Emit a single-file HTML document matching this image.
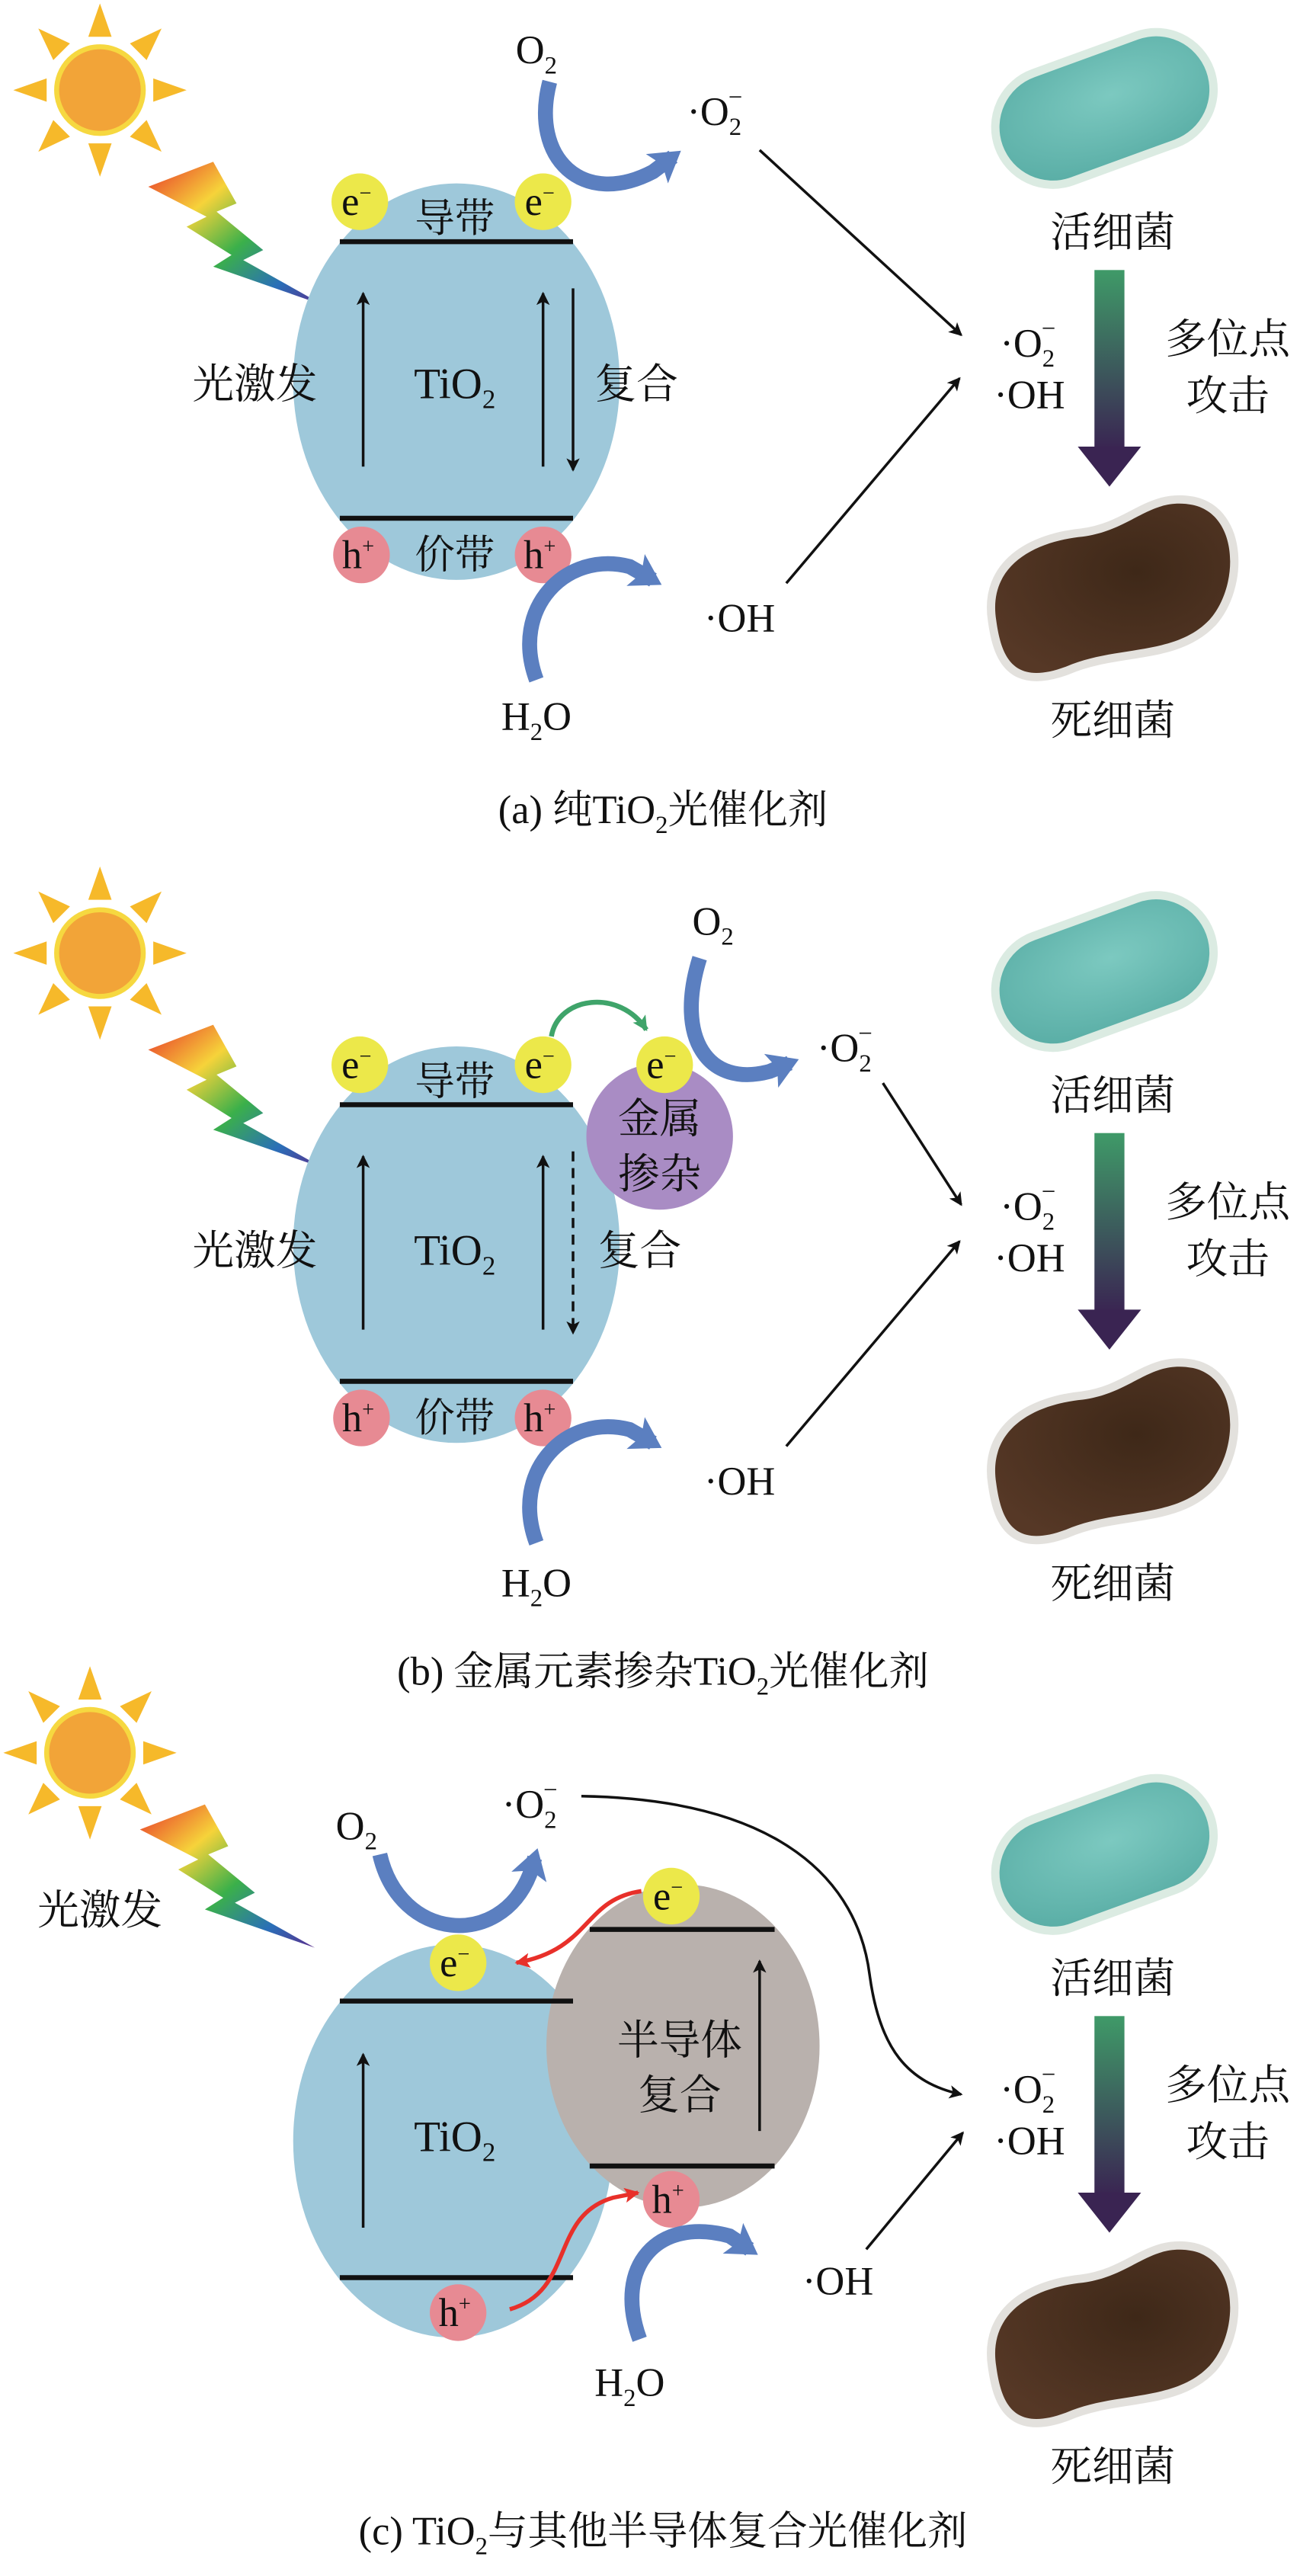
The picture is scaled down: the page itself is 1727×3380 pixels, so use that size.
<!DOCTYPE html>
<html><head><meta charset="utf-8"><style>
html,body{margin:0;padding:0;background:#fff}
svg{display:block}
text{font-family:"Liberation Serif","Noto Serif CJK SC",serif;fill:#111}
</style></head><body>
<svg width="1727" height="3380" viewBox="0 0 790 1546" xmlns="http://www.w3.org/2000/svg">
<defs>
<linearGradient id="bolt" x1="0" y1="0" x2="1" y2="1">
<stop offset="0" stop-color="#e8322a"/><stop offset="0.3" stop-color="#f6d33a"/><stop offset="0.55" stop-color="#3bb04a"/><stop offset="0.8" stop-color="#2a6fb8"/><stop offset="1" stop-color="#5a2d8c"/></linearGradient>
<linearGradient id="ga" x1="0" y1="0" x2="0" y2="1"><stop offset="0" stop-color="#3f9a68"/><stop offset="1" stop-color="#3a2452"/></linearGradient>
<radialGradient id="live" cx="0.55" cy="0.4" r="0.7"><stop offset="0" stop-color="#7cc9c0"/><stop offset="1" stop-color="#5aaea6"/></radialGradient>
<radialGradient id="dead" cx="0.6" cy="0.4" r="0.7"><stop offset="0" stop-color="#3e2818"/><stop offset="1" stop-color="#563826"/></radialGradient>
<marker id="ah" markerWidth="8" markerHeight="8" refX="7" refY="4" orient="auto" markerUnits="userSpaceOnUse"><path d="M0,0 L8,4 L0,8 L2,4 Z" fill="#111"/></marker>
<marker id="rh" markerWidth="9" markerHeight="9" refX="8" refY="4.5" orient="auto" markerUnits="userSpaceOnUse"><path d="M0,0 L9,4.5 L0,9 L2,4.5 Z" fill="#e8302a"/></marker>
<marker id="gh" markerWidth="9" markerHeight="9" refX="8" refY="4.5" orient="auto" markerUnits="userSpaceOnUse"><path d="M0,0 L9,4.5 L0,9 L2,4.5 Z" fill="#3fa46a"/></marker>
<marker id="bh" markerWidth="22" markerHeight="22" refX="12" refY="11" orient="auto" markerUnits="userSpaceOnUse"><path d="M0,0 L18,11 L0,22 L4,11 Z" fill="#5b7fc0"/></marker>

<g id="sun">
<g fill="#f6b92a">
<polygon points="0,-52 -7,-32 7,-32"/><polygon points="0,52 -7,32 7,32"/>
<polygon points="-52,0 -32,-7 -32,7"/><polygon points="52,0 32,-7 32,7"/>
<polygon points="-37,-37 -28,-18 -18,-28"/><polygon points="37,37 28,18 18,28"/>
<polygon points="37,-37 28,-18 18,-28"/><polygon points="-37,37 -28,18 -18,28"/>
</g>
<circle r="26" fill="#f2a438" stroke="#f6d840" stroke-width="3"/>
</g>
<polygon id="bolt1" points="89,112 128,97 142,122 130,127 158,150 146,156 194,183 128,160 139,153 112,136 124,130" fill="url(#bolt)"/>
<g id="bact">
<rect x="598" y="33" width="130" height="64" rx="32" transform="rotate(-20 663 65)" fill="none" stroke="#b7d8c6" stroke-width="10" opacity="0.5"/>
<rect x="598" y="33" width="130" height="64" rx="32" transform="rotate(-20 663 65)" fill="url(#live)"/>
<path d="M598,372 C593,340 620,325 650,322 C680,318 690,298 716,303 C744,309 744,352 726,372 C705,394 670,387 640,400 C608,412 601,394 598,372 Z" fill="none" stroke="#c8c4bc" stroke-width="10" opacity="0.5"/>
<path d="M598,372 C593,340 620,325 650,322 C680,318 690,298 716,303 C744,309 744,352 726,372 C705,394 670,387 640,400 C608,412 601,394 598,372 Z" fill="url(#dead)"/>
<text x="668" y="148" font-size="25" text-anchor="middle">活细菌</text>
<rect x="657" y="162" width="18" height="108" fill="url(#ga)"/>
<polygon points="647,268 685,268 666,292" fill="#3a2452"/>
<text x="737" y="212" font-size="25" text-anchor="middle">多位点</text>
<text x="737" y="246" font-size="25" text-anchor="middle">攻击</text>
<text x="668" y="441" font-size="25" text-anchor="middle">死细菌</text>
<text x="617" y="214" font-size="24" text-anchor="middle">·O<tspan font-size="15" dy="6">2</tspan><tspan font-size="15" dx="-8" dy="-18">−</tspan></text>
<text x="618" y="245" font-size="24" text-anchor="middle">·OH</text>
</g>
</defs>

<!-- ============ Panel (a) ============ -->
<use href="#sun" x="60" y="54"/>
<use href="#bolt1"/>
<use href="#bact"/>
<ellipse cx="274" cy="229" rx="98" ry="119" fill="#9ec8da"/>
<line x1="204" y1="145" x2="344" y2="145" stroke="#111" stroke-width="3"/>
<line x1="204" y1="311" x2="344" y2="311" stroke="#111" stroke-width="3"/>
<circle cx="216" cy="121" r="17" fill="#ece84a"/><circle cx="326" cy="121" r="17" fill="#ece84a"/>
<circle cx="217" cy="333" r="17" fill="#e78a93"/><circle cx="326" cy="333" r="17" fill="#e78a93"/>
<text x="214" y="129" font-size="24" text-anchor="middle">e<tspan font-size="13" dy="-9">−</tspan></text>
<text x="324" y="129" font-size="24" text-anchor="middle">e<tspan font-size="13" dy="-9">−</tspan></text>
<text x="215" y="341" font-size="24" text-anchor="middle">h<tspan font-size="13" dy="-9">+</tspan></text>
<text x="324" y="341" font-size="24" text-anchor="middle">h<tspan font-size="13" dy="-9">+</tspan></text>
<text x="273" y="139" font-size="24" text-anchor="middle">导带</text>
<text x="273" y="341" font-size="24" text-anchor="middle">价带</text>
<line x1="218" y1="280" x2="218" y2="176" stroke="#111" stroke-width="1.6" marker-end="url(#ah)"/>
<line x1="326" y1="280" x2="326" y2="176" stroke="#111" stroke-width="1.6" marker-end="url(#ah)"/>
<line x1="344" y1="173" x2="344" y2="282" stroke="#111" stroke-width="1.6" marker-end="url(#ah)"/>
<text x="153" y="239" font-size="25" text-anchor="middle">光激发</text>
<text x="273" y="239" font-size="26" text-anchor="middle">TiO<tspan font-size="16" dy="6">2</tspan></text>
<text x="382" y="239" font-size="25" text-anchor="middle">复合</text>
<text x="322" y="38" font-size="24" text-anchor="middle">O<tspan font-size="15" dy="6">2</tspan></text>
<path d="M330,49 C318,95 350,125 392,103 L404,94" fill="none" stroke="#5b7fc0" stroke-width="9" marker-end="url(#bh)"/>
<text x="429" y="75" font-size="24" text-anchor="middle">·O<tspan font-size="15" dy="6">2</tspan><tspan font-size="15" dx="-8" dy="-18">−</tspan></text>
<line x1="456" y1="90" x2="577" y2="201" stroke="#111" stroke-width="1.6" marker-end="url(#ah)"/>
<line x1="472" y1="350" x2="576" y2="227" stroke="#111" stroke-width="1.6" marker-end="url(#ah)"/>
<path d="M322,408 C306,365 340,330 378,340 L392,348" fill="none" stroke="#5b7fc0" stroke-width="9" marker-end="url(#bh)"/>
<text x="444" y="379" font-size="24" text-anchor="middle">·OH</text>
<text x="322" y="438" font-size="24" text-anchor="middle">H<tspan font-size="15" dy="6">2</tspan><tspan dy="-6">O</tspan></text>
<text x="398" y="494" font-size="24" text-anchor="middle">(a) 纯TiO<tspan font-size="15" dy="6">2</tspan><tspan dy="-6">光催化剂</tspan></text>

<!-- ============ Panel (b) ============ -->
<g transform="translate(0,518)">
<use href="#sun" x="60" y="54"/>
<use href="#bolt1"/>
<use href="#bact"/>
<ellipse cx="274" cy="229" rx="98" ry="119" fill="#9ec8da"/>
<circle cx="396" cy="164" r="44" fill="#a98cc4"/>
<line x1="204" y1="145" x2="344" y2="145" stroke="#111" stroke-width="3"/>
<line x1="204" y1="311" x2="344" y2="311" stroke="#111" stroke-width="3"/>
<circle cx="216" cy="121" r="17" fill="#ece84a"/><circle cx="326" cy="121" r="17" fill="#ece84a"/><circle cx="399" cy="121" r="17" fill="#ece84a"/>
<circle cx="217" cy="333" r="17" fill="#e78a93"/><circle cx="326" cy="333" r="17" fill="#e78a93"/>
<text x="214" y="129" font-size="24" text-anchor="middle">e<tspan font-size="13" dy="-9">−</tspan></text>
<text x="324" y="129" font-size="24" text-anchor="middle">e<tspan font-size="13" dy="-9">−</tspan></text>
<text x="397" y="129" font-size="24" text-anchor="middle">e<tspan font-size="13" dy="-9">−</tspan></text>
<text x="215" y="341" font-size="24" text-anchor="middle">h<tspan font-size="13" dy="-9">+</tspan></text>
<text x="324" y="341" font-size="24" text-anchor="middle">h<tspan font-size="13" dy="-9">+</tspan></text>
<text x="273" y="139" font-size="24" text-anchor="middle">导带</text>
<text x="273" y="341" font-size="24" text-anchor="middle">价带</text>
<text x="396" y="162" font-size="25" text-anchor="middle">金属</text>
<text x="396" y="195" font-size="25" text-anchor="middle">掺杂</text>
<path d="M331,104 C335,80 372,75 388,100" fill="none" stroke="#3fa46a" stroke-width="3" marker-end="url(#gh)"/>
<line x1="218" y1="280" x2="218" y2="176" stroke="#111" stroke-width="1.6" marker-end="url(#ah)"/>
<line x1="326" y1="280" x2="326" y2="176" stroke="#111" stroke-width="1.6" marker-end="url(#ah)"/>
<line x1="344" y1="173" x2="344" y2="282" stroke="#111" stroke-width="1.6" stroke-dasharray="6,4" marker-end="url(#ah)"/>
<text x="153" y="241" font-size="25" text-anchor="middle">光激发</text>
<text x="273" y="241" font-size="26" text-anchor="middle">TiO<tspan font-size="16" dy="6">2</tspan></text>
<text x="384" y="241" font-size="25" text-anchor="middle">复合</text>
<text x="428" y="43" font-size="24" text-anchor="middle">O<tspan font-size="15" dy="6">2</tspan></text>
<path d="M420,57 C405,105 425,135 462,125 L474,120" fill="none" stroke="#5b7fc0" stroke-width="9" marker-end="url(#bh)"/>
<text x="507" y="119" font-size="24" text-anchor="middle">·O<tspan font-size="15" dy="6">2</tspan><tspan font-size="15" dx="-8" dy="-18">−</tspan></text>
<line x1="530" y1="132" x2="577" y2="205" stroke="#111" stroke-width="1.6" marker-end="url(#ah)"/>
<line x1="472" y1="350" x2="576" y2="227" stroke="#111" stroke-width="1.6" marker-end="url(#ah)"/>
<path d="M322,408 C306,365 340,330 378,340 L392,348" fill="none" stroke="#5b7fc0" stroke-width="9" marker-end="url(#bh)"/>
<text x="444" y="379" font-size="24" text-anchor="middle">·OH</text>
<text x="322" y="440" font-size="24" text-anchor="middle">H<tspan font-size="15" dy="6">2</tspan><tspan dy="-6">O</tspan></text>
<text x="398" y="493" font-size="24" text-anchor="middle">(b) 金属元素掺杂TiO<tspan font-size="15" dy="6">2</tspan><tspan dy="-6">光催化剂</tspan></text>
</g>

<!-- ============ Panel (c) ============ -->
<g transform="translate(0,1048)">
<use href="#sun" x="54" y="4"/>
<use href="#bact"/>
</g>
<polygon points="89,112 128,97 142,122 130,127 158,150 146,156 194,183 128,160 139,153 112,136 124,130" fill="url(#bolt)" transform="translate(-5,986)"/>
<text x="60" y="1155" font-size="25" text-anchor="middle">光激发</text>
<text x="214" y="1104" font-size="24" text-anchor="middle">O<tspan font-size="15" dy="6">2</tspan></text>
<text x="318" y="1091" font-size="24" text-anchor="middle">·O<tspan font-size="15" dy="6">2</tspan><tspan font-size="15" dx="-8" dy="-18">−</tspan></text>
<path d="M228,1113 C240,1165 300,1170 318,1125 L321,1115" fill="none" stroke="#5b7fc0" stroke-width="9" marker-end="url(#bh)"/>
<path d="M349,1078 C470,1080 515,1130 522,1185 C528,1230 545,1250 577,1257" fill="none" stroke="#111" stroke-width="1.6" marker-end="url(#ah)"/>
<ellipse cx="272" cy="1285" rx="96" ry="118" fill="#9ec8da"/>
<ellipse cx="410" cy="1228" rx="82" ry="97" fill="#b9b1ad"/>
<line x1="204" y1="1201" x2="344" y2="1201" stroke="#111" stroke-width="3"/>
<line x1="204" y1="1367" x2="344" y2="1367" stroke="#111" stroke-width="3"/>
<line x1="354" y1="1158" x2="465" y2="1158" stroke="#111" stroke-width="3"/>
<line x1="354" y1="1300" x2="465" y2="1300" stroke="#111" stroke-width="3"/>
<circle cx="403" cy="1138" r="17" fill="#ece84a"/><circle cx="275" cy="1178" r="17" fill="#ece84a"/>
<circle cx="403" cy="1320" r="17" fill="#e78a93"/><circle cx="275" cy="1388" r="17" fill="#e78a93"/>
<text x="401" y="1146" font-size="24" text-anchor="middle">e<tspan font-size="13" dy="-9">−</tspan></text>
<text x="273" y="1186" font-size="24" text-anchor="middle">e<tspan font-size="13" dy="-9">−</tspan></text>
<text x="401" y="1328" font-size="24" text-anchor="middle">h<tspan font-size="13" dy="-9">+</tspan></text>
<text x="273" y="1396" font-size="24" text-anchor="middle">h<tspan font-size="13" dy="-9">+</tspan></text>
<path d="M385,1135 C350,1140 355,1170 310,1178" fill="none" stroke="#e8302a" stroke-width="2.5" marker-end="url(#rh)"/>
<path d="M306,1386 C345,1375 330,1330 368,1319 L383,1316" fill="none" stroke="#e8302a" stroke-width="2.5" marker-end="url(#rh)"/>
<line x1="218" y1="1337" x2="218" y2="1233" stroke="#111" stroke-width="1.6" marker-end="url(#ah)"/>
<line x1="456" y1="1279" x2="456" y2="1177" stroke="#111" stroke-width="1.6" marker-end="url(#ah)"/>
<text x="273" y="1291" font-size="26" text-anchor="middle">TiO<tspan font-size="16" dy="6">2</tspan></text>
<text x="408" y="1233" font-size="25" text-anchor="middle">半导体</text>
<text x="408" y="1266" font-size="25" text-anchor="middle">复合</text>
<path d="M384,1404 C368,1360 395,1330 438,1342 L450,1350" fill="none" stroke="#5b7fc0" stroke-width="9" marker-end="url(#bh)"/>
<text x="503" y="1377" font-size="24" text-anchor="middle">·OH</text>
<text x="378" y="1438" font-size="24" text-anchor="middle">H<tspan font-size="15" dy="6">2</tspan><tspan dy="-6">O</tspan></text>
<line x1="520" y1="1350" x2="578" y2="1280" stroke="#111" stroke-width="1.6" marker-end="url(#ah)"/>
<text x="398" y="1527" font-size="24" text-anchor="middle">(c) TiO<tspan font-size="15" dy="6">2</tspan><tspan dy="-6">与其他半导体复合光催化剂</tspan></text>
</svg>
</body></html>
